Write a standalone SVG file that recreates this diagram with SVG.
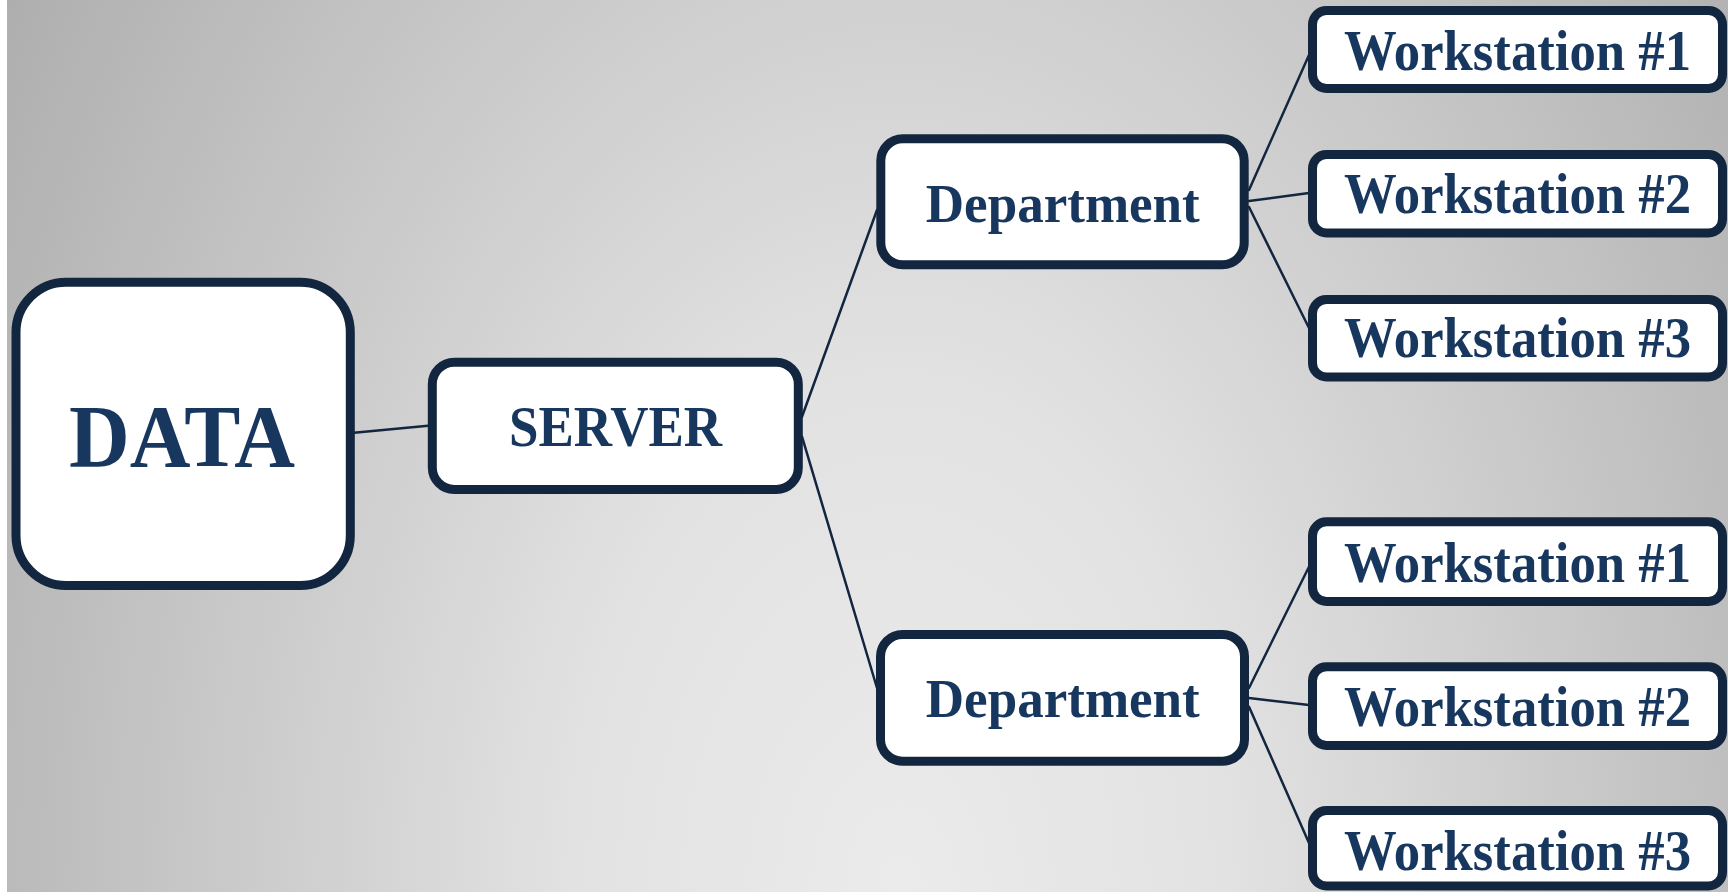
<svg xmlns="http://www.w3.org/2000/svg" width="1728" height="892" viewBox="0 0 1728 892">
  <defs>
    <radialGradient id="bg" gradientUnits="userSpaceOnUse" cx="900" cy="892" r="1322" gradientTransform="translate(900 892) scale(1 1.55) translate(-900 -892)">
      <stop offset="0" stop-color="#ebebeb"/>
      <stop offset="0.25" stop-color="#e2e2e2"/>
      <stop offset="1" stop-color="#9c9c9c"/>
    </radialGradient>
    <style>
      .box { fill: #ffffff; stroke: #12263f; stroke-width: 9; }
      .lbl { font-family: "Liberation Serif", "Times New Roman", serif; font-weight: bold; fill: #17375e; text-anchor: middle; }
      .conn line { stroke: #12263f; stroke-width: 2.5; stroke-linecap: round; }
    </style>
  </defs>
  <rect x="0" y="0" width="1728" height="892" fill="#ffffff"/>
  <rect x="7" y="0" width="1721" height="892" fill="url(#bg)"/>

  <g id="connectors" class="conn">
    <line x1="354" y1="432.7" x2="428" y2="425.7"/>
    <line x1="802" y1="416.7" x2="877" y2="210"/>
    <line x1="802" y1="436.7" x2="877" y2="688"/>
    <line x1="1249" y1="190" x2="1309" y2="55"/>
    <line x1="1249" y1="201" x2="1309" y2="193"/>
    <line x1="1249" y1="207" x2="1309" y2="328"/>
    <line x1="1249" y1="688" x2="1309" y2="566.7"/>
    <line x1="1249" y1="698" x2="1309" y2="705"/>
    <line x1="1249" y1="706.7" x2="1309" y2="843"/>
  </g>

  <g id="node-data">
    <rect class="box" x="16" y="282.2" width="334.3" height="303.3" rx="50" ry="50"/>
    <text class="lbl" x="182" y="466" font-size="88" textLength="226" lengthAdjust="spacingAndGlyphs">DATA</text>
  </g>

  <g id="node-server">
    <rect class="box" x="432.3" y="362.2" width="366" height="127.3" rx="22" ry="22"/>
    <text class="lbl" x="615.5" y="446" font-size="56" textLength="213" lengthAdjust="spacingAndGlyphs">SERVER</text>
  </g>

  <g id="node-dept-1">
    <rect class="box" x="880.8" y="138.8" width="363.4" height="126" rx="22" ry="22"/>
    <text class="lbl" x="1062.8" y="221.7" font-size="54" textLength="274" lengthAdjust="spacingAndGlyphs">Department</text>
  </g>

  <g id="node-dept-2">
    <rect class="box" x="880.5" y="634.5" width="364" height="126.7" rx="22" ry="22"/>
    <text class="lbl" x="1062.8" y="716.7" font-size="54" textLength="274" lengthAdjust="spacingAndGlyphs">Department</text>
  </g>

  <g id="node-ws-1a">
    <rect class="box" x="1312.5" y="10.5" width="410" height="78" rx="14" ry="14"/>
    <text class="lbl" x="1517.5" y="70" font-size="56" textLength="347" lengthAdjust="spacingAndGlyphs">Workstation #1</text>
  </g>
  <g id="node-ws-2a">
    <rect class="box" x="1312.5" y="154.5" width="410" height="78.5" rx="14" ry="14"/>
    <text class="lbl" x="1517.5" y="213" font-size="56" textLength="347" lengthAdjust="spacingAndGlyphs">Workstation #2</text>
  </g>
  <g id="node-ws-3a">
    <rect class="box" x="1312.5" y="299.5" width="410" height="77.5" rx="14" ry="14"/>
    <text class="lbl" x="1517.5" y="356.7" font-size="56" textLength="347" lengthAdjust="spacingAndGlyphs">Workstation #3</text>
  </g>

  <g id="node-ws-1b">
    <rect class="box" x="1312.5" y="521.8" width="410" height="79.7" rx="14" ry="14"/>
    <text class="lbl" x="1517.5" y="581.7" font-size="56" textLength="347" lengthAdjust="spacingAndGlyphs">Workstation #1</text>
  </g>
  <g id="node-ws-2b">
    <rect class="box" x="1312.5" y="666.8" width="410" height="78.7" rx="14" ry="14"/>
    <text class="lbl" x="1517.5" y="726" font-size="56" textLength="347" lengthAdjust="spacingAndGlyphs">Workstation #2</text>
  </g>
  <g id="node-ws-3b">
    <rect class="box" x="1312.5" y="810.5" width="410" height="75.5" rx="14" ry="14"/>
    <text class="lbl" x="1517.5" y="870" font-size="56" textLength="347" lengthAdjust="spacingAndGlyphs">Workstation #3</text>
  </g>
</svg>
